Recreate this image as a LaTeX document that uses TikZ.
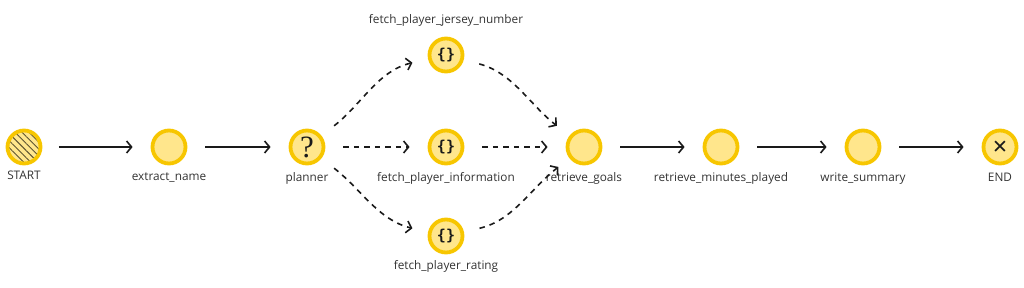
\documentclass[tikz,border=0pt]{standalone}
\usepackage{fontspec}
\setmainfont{Open Sans}
\newfontfamily\symfont{DejaVu Sans}
\newfontfamily\qfont{Liberation Serif}
\newfontfamily\bracefont{DejaVu Sans Mono}
\usepackage{tikz}
\usetikzlibrary{arrows.meta,positioning,patterns.meta}
\definecolor{stepgold}{HTML}{F7C600}
\definecolor{stepfill}{HTML}{FFE68C}
\definecolor{hatchdark}{HTML}{5C5330}
\definecolor{edgeblack}{HTML}{1A1A1A}
\definecolor{labelgray}{HTML}{333333}

\begin{document}
\begin{tikzpicture}[
  x=1pt, y=-1pt,
  >={Straight Barb[length=5pt,width=12pt]},
  stepnode/.style={
    circle,
    draw=stepgold,
    fill=stepfill,
    line width=3.8pt,
    minimum size=33pt,
    inner sep=0pt,
    text=edgeblack
  },
  startnode/.style={
    stepnode,
    preaction={fill=stepfill},
    pattern={Lines[angle=-45,distance=5pt,line width=0.9pt]},
    pattern color=hatchdark
  },
  toolnode/.style={
    stepnode,
    font=\bracefont\bfseries\fontsize{15}{15}\selectfont
  },
  steplabel/.style={
    font=\fontsize{11.8}{14}\selectfont,
    text=labelgray,
    inner sep=1pt
  },
  flow/.style={
    ->,
    line width=1.6pt,
    draw=edgeblack,
    shorten <=18pt,
    shorten >=18pt
  },
  branch/.style={
    flow,
    dash pattern=on 5.5pt off 5pt
  }
]

  \useasboundingbox (0,0) rectangle (1024,287);

  % Main line of steps
  \node[startnode] (start) at (24,147) {};
  \node[stepnode] (extract) at (169,147) {};
  \node[stepnode] (planner) at (307,147) {\qfont\fontsize{31}{31}\selectfont ?};
  \node[stepnode] (retrieve) at (584,147) {};
  \node[stepnode] (minutes) at (721,147) {};
  \node[stepnode] (summary) at (863,147) {};
  \node[stepnode] (end) at (1000,147) {\symfont\bfseries\fontsize{19}{19}\selectfont ✕};

  % Tool calls fanned out by the planner
  \node[toolnode] (jersey) at (446,55) {\{\}};
  \node[toolnode] (info) at (446,147) {\{\}};
  \node[toolnode] (rating) at (446,236) {\{\}};

  % Labels
  \node[steplabel, below=6pt of start] (startlabel) {START};
  \node[steplabel, below=6pt of extract] (extractlabel) {extract\_name};
  \node[steplabel, below=6pt of planner] (plannerlabel) {planner};
  \node[steplabel, below=6pt of info] (infolabel) {fetch\_player\_information};
  \node[steplabel, above=9pt of jersey] (jerseylabel) {fetch\_player\_jersey\_number};
  \node[steplabel, below=5pt of rating] (ratinglabel) {fetch\_player\_rating};
  \node[steplabel, below=6pt of retrieve] (retrievelabel) {retrieve\_goals};
  \node[steplabel, below=6pt of minutes] (minuteslabel) {retrieve\_minutes\_played};
  \node[steplabel, below=6pt of summary] (summarylabel) {write\_summary};
  \node[steplabel, below=6pt of end] (endlabel) {END};

  % Solid connectors
  \draw[flow] (start) -- (extract);
  \draw[flow] (extract) -- (planner);
  \draw[flow] (retrieve) -- (minutes);
  \draw[flow] (minutes) -- (summary);
  \draw[flow] (summary) -- (end);

  % Dashed (conditional) connectors
  \draw[branch] (planner) -- (info);
  \draw[branch] (info) -- (retrieve);
  \draw[branch, shorten <=16pt, shorten >=16pt] (planner) to[out=38,in=193] (jersey);
  \draw[branch, shorten <=16pt, shorten >=16pt] (jersey) to[out=-15,in=142] (retrieve);
  \draw[branch, shorten <=16pt, shorten >=16pt] (planner) to[out=-38,in=167] (rating);
  \draw[branch, shorten <=16pt, shorten >=14pt] (rating) to[out=13,in=218] (retrieve);

\end{tikzpicture}
\end{document}
